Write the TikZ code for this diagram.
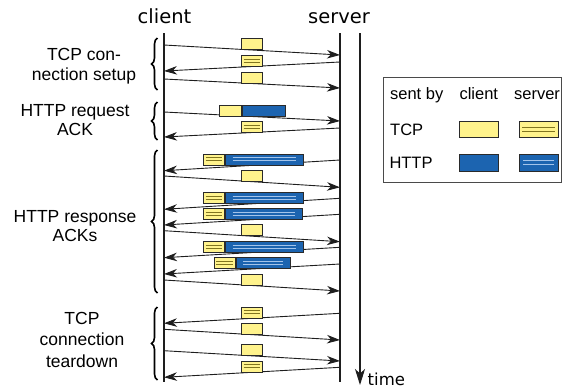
\documentclass[tikz,border=0pt]{standalone}
\usepackage{fontspec}
\setmainfont{Liberation Sans}
\newfontfamily\headfont{DejaVu Sans}
\usetikzlibrary{arrows.meta,decorations.pathreplacing}

\definecolor{tcpyellow}{HTML}{FFF38C}
\definecolor{httpblue}{HTML}{1C64B0}
\definecolor{tcpline}{HTML}{80741F}
\definecolor{httpline}{HTML}{A4C4EA}
\definecolor{boxedge}{HTML}{2A2A2A}
\definecolor{wire}{HTML}{1E1E1E}
\definecolor{legendedge}{HTML}{4A4A4A}

\begin{document}
\begin{tikzpicture}[x=1pt,y=-1pt,
  lifeline/.style={line width=1.1pt, draw=wire},
  msg/.style={line width=0.9pt, draw=wire, -{Stealth[length=13pt,width=8.5pt,inset=4pt]}},
  timeaxis/.style={line width=1.1pt, draw=wire, -{Stealth[length=16pt,width=10pt,inset=4.5pt]}},
  grp/.style={decorate, decoration={brace, mirror, amplitude=6pt}, line width=1.6pt, draw=black},
  stripes/.style n args={3}{path picture={
      \draw[#1, line width=1.1pt]
        ([xshift=#2, yshift=#3]path picture bounding box.west) -- ([xshift=-#2, yshift=#3]path picture bounding box.east)
        ([xshift=#2, yshift=-#3]path picture bounding box.west) -- ([xshift=-#2, yshift=-#3]path picture bounding box.east);}},
  pkt/.style={rectangle, draw=boxedge, line width=0.8pt, inner sep=0pt, minimum height=11pt, anchor=south west},
  tcpc/.style={pkt, fill=tcpyellow, minimum width=21.7pt},
  tcps/.style={tcpc, stripes={tcpline}{2.5pt}{1.5pt}},
  httpc/.style={pkt, fill=httpblue},
  https/.style={httpc, stripes={httpline}{7pt}{1.5pt}},
  keybox/.style={rectangle, draw=boxedge, line width=0.8pt, inner sep=0pt, minimum width=39pt, minimum height=16.7pt},
  head/.style={font=\headfont\fontsize{19.5}{22}\selectfont, anchor=base, inner sep=0pt},
  grouplabel/.style={font=\fontsize{17.5}{19.5}\selectfont, align=center, inner sep=0pt},
  keytext/.style={font=\fontsize{16.5}{19}\selectfont, inner sep=0pt, anchor=base}
]
\useasboundingbox (0,0) rectangle (563,389);

% column headings
\node[head] (clientlabel) at (164.5,23.3) {client};
\node[head] (serverlabel) at (339,23.3) {server};

% life lines and time axis
\coordinate (ctop) at (164,33); \coordinate (cbot) at (164,382);
\coordinate (stop) at (340,33); \coordinate (sbot) at (340,382);
\coordinate (ttop) at (360,33); \coordinate (tbot) at (360,385);
\draw[lifeline] (ctop) -- (cbot);
\draw[lifeline] (stop) -- (sbot);
\draw[timeaxis] (ttop) -- (tbot);
\node[font=\headfont\fontsize{16.5}{19}\selectfont, anchor=base west, inner sep=0pt] (timelabel) at (367.5,385) {time};

% --- TCP connection setup
\coordinate (c1) at (164,45);   \coordinate (s1) at (340,55);
\coordinate (s2) at (340,62);   \coordinate (c2) at (164,71);
\coordinate (c3) at (164,79);   \coordinate (s3) at (340,88);
\draw[msg] (c1) -- (s1);
\draw[msg] (s2) -- (c2);
\draw[msg] (c3) -- (s3);
\node[tcpc] (p1) at (240.7,50) {};
\node[tcps] (p2) at (240.7,66.5) {};
\node[tcpc] (p3) at (240.7,83.5) {};

% --- HTTP request and its ACK
\coordinate (c4) at (164,112);  \coordinate (s4) at (340,121);
\coordinate (s5) at (340,128);  \coordinate (c5) at (164,137);
\draw[msg] (c4) -- (s4);
\draw[msg] (s5) -- (c5);
\node[tcpc] (h4) at (219,116.5) {};
\node[httpc, minimum width=43.6pt] (p4) at (h4.south east) {};
\node[tcps] (p5) at (240.7,132.5) {};

% --- HTTP response segments and ACKs
\coordinate (s6) at (340,160);    \coordinate (c6) at (164,170.7);
\coordinate (c7) at (164,176);    \coordinate (s7) at (340,187.3);
\coordinate (s8) at (340,198.3);  \coordinate (c8) at (164,209.3);
\coordinate (s9) at (340,214.3);  \coordinate (c9) at (164,225);
\coordinate (c10) at (164,230.7); \coordinate (s10) at (340,241.7);
\coordinate (s11) at (340,247.3); \coordinate (c11) at (164,257.7);
\coordinate (s12) at (340,264);   \coordinate (c12) at (164,274);
\coordinate (c13) at (164,280);   \coordinate (s13) at (340,291);
\draw[msg] (s6) -- (c6);
\draw[msg] (c7) -- (s7);
\draw[msg] (s8) -- (c8);
\draw[msg] (s9) -- (c9);
\draw[msg] (c10) -- (s10);
\draw[msg] (s11) -- (c11);
\draw[msg] (s12) -- (c12);
\draw[msg] (c13) -- (s13);
\node[tcps] (h6) at (202.7,165.3) {};
\node[https, minimum width=77.4pt] (p6) at (h6.south east) {};
\node[tcpc] (p7) at (240.7,181.7) {};
\node[tcps] (h8) at (202.7,203.8) {};
\node[https, minimum width=77.4pt] (p8) at (h8.south east) {};
\node[tcps] (h9) at (202.7,219.7) {};
\node[https, minimum width=76.4pt] (p9) at (h9.south east) {};
\node[tcpc] (p10) at (240.7,236.2) {};
\node[tcps] (h11) at (202.7,252.5) {};
\node[https, minimum width=77.4pt] (p11) at (h11.south east) {};
\node[tcps] (h12) at (213.5,269) {};
\node[https, minimum width=53.8pt] (p12) at (h12.south east) {};
\node[tcpc] (p13) at (240.7,285.5) {};

% --- TCP connection teardown
\coordinate (s14) at (340,313.3); \coordinate (c14) at (164,323.3);
\coordinate (c15) at (164,329.3); \coordinate (s15) at (340,340);
\coordinate (c16) at (164,350.7); \coordinate (s16) at (340,361);
\coordinate (s17) at (340,367.3); \coordinate (c17) at (164,377.3);
\draw[msg] (s14) -- (c14);
\draw[msg] (c15) -- (s15);
\draw[msg] (c16) -- (s16);
\draw[msg] (s17) -- (c17);
\node[tcps] (p14) at (240.7,318.3) {};
\node[tcpc] (p15) at (240.7,334.7) {};
\node[tcpc] (p16) at (240.7,355.8) {};
\node[tcps] (p17) at (240.7,372.3) {};

% phase braces
\coordinate (g1t) at (157.5,38);  \coordinate (g1b) at (157.5,90);
\coordinate (g2t) at (157.5,102); \coordinate (g2b) at (157.5,140);
\coordinate (g3t) at (157.5,150); \coordinate (g3b) at (157.5,293);
\coordinate (g4t) at (157.5,307); \coordinate (g4b) at (157.5,380);
\draw[grp] (g1t) -- (g1b);
\draw[grp] (g2t) -- (g2b);
\draw[grp] (g3t) -- (g3b);
\draw[grp] (g4t) -- (g4b);

% phase labels
\node[grouplabel] (l1) at (84,66) {TCP con-\\nection setup};
\node[grouplabel] (l2) at (75,120) {HTTP request\\ACK};
\node[grouplabel] (l3) at (75,226) {HTTP response\\ACKs};
\node[grouplabel, font=\fontsize{17.5}{21.5}\selectfont] (l4) at (82,339.5) {TCP\\connection\\teardown};

% legend
\node[rectangle, draw=legendedge, line width=0.8pt, inner sep=0pt,
      minimum width=177.4pt, minimum height=105pt, anchor=north west] (legend) at (383.3,76.7) {};
\node[keytext] (ksent) at (416.7,99.3) {sent by};
\node[keytext] (kclient) at (478.8,99.3) {client};
\node[keytext] (kserver) at (537,99.3) {server};
\node[keytext, anchor=base west] (ktcp) at (390,135) {TCP};
\node[keytext, anchor=base west] (khttp) at (389.3,168.7) {HTTP};
\node[keybox, fill=tcpyellow] (ktc) at (478.8,129.3) {};
\node[keybox, fill=tcpyellow, stripes={tcpline}{3pt}{2.2pt}] (kts) at (538.7,129.3) {};
\node[keybox, fill=httpblue] (khc) at (478.8,162.7) {};
\node[keybox, fill=httpblue, stripes={httpline}{4pt}{2.2pt}] (khs) at (538.7,162.7) {};
\end{tikzpicture}
\end{document}
